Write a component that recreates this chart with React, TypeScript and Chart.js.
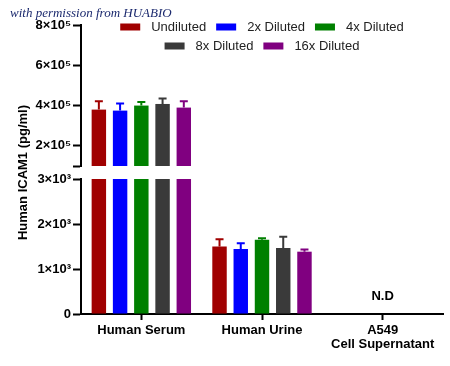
import React, { useEffect, useRef } from 'react';
import { Chart, registerables } from 'chart.js';

Chart.register(...registerables);

// ---------- data ----------
const categories: (string | string[])[] = ['Human Serum', 'Human Urine', ['A549', 'Cell Supernatant']];
const seriesLabels = ['Undiluted', '2x Diluted', '4x Diluted', '8x Diluted', '16x Diluted'];
const seriesColors = ['#a00000', '#0000ff', '#008000', '#3a3a3a', '#800080'];

const undiluted = [380000, 1500, null];
const diluted2x = [375000, 1445, null];
const diluted4x = [400000, 1650, null];
const diluted8x = [408000, 1465, null];
const diluted16x = [390000, 1385, null];

const undilutedSD = [41000, 160, null];
const diluted2xSD = [35000, 125, null];
const diluted4xSD = [18000, 35, null];
const diluted8xSD = [27000, 250, null];
const diluted16xSD = [31000, 50, null];

const notDetected = ['', '', 'N.D'];

const lowerTicks = [0, 1000, 2000, 3000];
const upperTicks = [100000, 200000, 400000, 600000, 800000];
const lowerMin = 0;
const lowerMax = 3000;
const upperMin = 100000;
const upperMax = 800000;

const yTitle = 'Human ICAM1 (pg/ml)';
const watermark = 'with permission from HUABIO';

// ---------- helpers ----------
const FONT = '"Liberation Sans", Arial, Helvetica, sans-serif';
const SUP = ['⁰', '¹', '²', '³', '⁴', '⁵', '⁶', '⁷', '⁸', '⁹'];
function sci(v: number): string {
  if (v === 0) return '0';
  const e = Math.floor(Math.log10(v) + 1e-9);
  const m = Math.round(v / Math.pow(10, e));
  return `${m}×10${SUP[e]}`;
}

const seriesValues = [undiluted, diluted2x, diluted4x, diluted8x, diluted16x];
const seriesSD = [undilutedSD, diluted2xSD, diluted4xSD, diluted8xSD, diluted16xSD];

function buildDatasets() {
  const ds: any[] = [];
  seriesValues.forEach((vals, i) => {
    const common = {
      label: seriesLabels[i],
      backgroundColor: seriesColors[i],
      borderWidth: 0,
      stack: 's' + i,
      barPercentage: 0.68,
      categoryPercentage: 0.88,
      rawValues: vals,
      sd: seriesSD[i],
    };
    ds.push({
      ...common,
      yAxisID: 'yLow',
      inLegend: true,
      data: vals.map((v) => (v == null ? null : [lowerMin, Math.min(v, lowerMax)])),
    });
    ds.push({
      ...common,
      yAxisID: 'yHigh',
      inLegend: false,
      data: vals.map((v) => (v == null || v <= upperMin ? null : [upperMin, v])),
    });
  });
  return ds;
}

const errorBarPlugin = {
  id: 'errorBars',
  afterDatasetsDraw(chart: any) {
    const ctx = chart.ctx;
    chart.data.datasets.forEach((ds: any, di: number) => {
      const meta = chart.getDatasetMeta(di);
      const scale = chart.scales[ds.yAxisID];
      meta.data.forEach((bar: any, i: number) => {
        const v = ds.rawValues[i];
        const sd = ds.sd[i];
        if (v == null || sd == null || ds.data[i] == null) return;
        const inThis = ds.yAxisID === 'yHigh' ? v > upperMin : v <= lowerMax;
        if (!inThis) return;
        const x = bar.x;
        const y0 = scale.getPixelForValue(v);
        const y1 = scale.getPixelForValue(v + sd);
        ctx.save();
        ctx.strokeStyle = ds.backgroundColor;
        ctx.lineWidth = 2;
        ctx.beginPath();
        ctx.moveTo(x, y0);
        ctx.lineTo(x, y1);
        ctx.moveTo(x - 4, y1);
        ctx.lineTo(x + 4, y1);
        ctx.stroke();
        ctx.restore();
      });
    });
  },
};

const annotationsPlugin = {
  id: 'annotations',
  afterDraw(chart: any) {
    const ctx = chart.ctx;
    const area = chart.chartArea;
    ctx.save();
    // watermark
    ctx.font = 'italic 13px "Liberation Serif", "DejaVu Serif", serif';
    ctx.fillStyle = '#1c2a6e';
    ctx.textAlign = 'left';
    ctx.textBaseline = 'alphabetic';
    ctx.fillText(watermark, 10, 17);

    // N.D labels
    ctx.font = `bold 13px ${FONT}`;
    ctx.fillStyle = '#000';
    ctx.textAlign = 'center';
    ctx.textBaseline = 'middle';
    notDetected.forEach((t, i) => {
      if (!t) return;
      const x = chart.scales.x.getPixelForValue(i);
      const y = chart.scales.yLow.getPixelForValue(lowerMin) - 18;
      ctx.fillText(t, x, y);
    });

    // legend
    const items = chart.data.datasets.filter((d: any) => d.inLegend);
    const rows = [items.slice(0, 3), items.slice(3)];
    ctx.font = `13px ${FONT}`;
    ctx.textAlign = 'left';
    ctx.textBaseline = 'middle';
    const boxW = 20, boxH = 7, boxGap = 11, itemGap = 10;
    const cx = (area.left + area.right) / 2;
    rows.forEach((row: any[], r: number) => {
      const widths = row.map((d) => boxW + boxGap + ctx.measureText(d.label).width);
      const total = widths.reduce((a, b) => a + b, 0) + itemGap * (row.length - 1);
      let x = cx - total / 2;
      const y = area.top + 2 + r * 19;
      row.forEach((d, k) => {
        ctx.fillStyle = d.backgroundColor;
        ctx.fillRect(x, y - boxH / 2, boxW, boxH);
        ctx.fillStyle = '#222';
        ctx.fillText(d.label, x + boxW + boxGap, y + 0.5);
        x += widths[k] + itemGap;
      });
    });
    ctx.restore();
  },
};

const AXIS_W = 81;

export default function App() {
  const ref = useRef<HTMLCanvasElement>(null);
  useEffect(() => {
    const tickFont = { family: FONT, size: 13, weight: 'bold' as const };
    const chart = new Chart(ref.current as HTMLCanvasElement, {
      type: 'bar',
      data: { labels: categories as any, datasets: buildDatasets() },
      plugins: [errorBarPlugin, annotationsPlugin],
      options: {
        responsive: false,
        animation: false,
        layout: { padding: { top: 25, right: 7, left: 0, bottom: 0 } },
        plugins: {
          legend: { display: false },
          tooltip: { enabled: false },
          title: { display: false },
        },
        scales: {
          x: {
            type: 'category',
            offset: true,
            grid: {
              display: true,
              drawOnChartArea: false,
              drawTicks: true,
              tickLength: 6,
              tickWidth: 2,
              tickColor: '#000',
              offset: false,
            },
            border: { display: true, color: '#000', width: 2 },
            ticks: {
              color: '#000',
              font: { ...tickFont, lineHeight: 1.1 },
              padding: 3,
              maxRotation: 0,
              autoSkip: false,
            },
            afterFit: (s: any) => { s.height = 52; },
          },
          yHigh: {
            type: 'linear',
            position: 'left',
            stack: 'y',
            stackWeight: 141,
            weight: 3,
            stacked: false,
            min: upperMin,
            max: upperMax,
            afterBuildTicks: (s: any) => { s.ticks = upperTicks.map((v) => ({ value: v })); },
            grid: {
              display: true,
              drawOnChartArea: false,
              drawTicks: true,
              tickLength: 8,
              tickWidth: 2,
              tickColor: '#000',
            },
            border: { display: true, color: '#000', width: 2 },
            ticks: {
              color: '#000',
              font: tickFont,
              padding: 2,
              callback: (v: any) => (v === upperMin ? '' : sci(Number(v))),
            },
            afterFit: (s: any) => { s.width = AXIS_W; },
          },
          yGap: {
            type: 'linear',
            position: 'left',
            stack: 'y',
            stackWeight: 13,
            weight: 2,
            grid: { display: false },
            border: { display: false },
            ticks: { display: false },
            title: {
              display: true,
              text: yTitle,
              color: '#000',
              font: { family: FONT, size: 13, weight: 'bold' },
              padding: { top: 16, bottom: 0 },
            },
            afterFit: (s: any) => { s.width = AXIS_W; },
          },
          yLow: {
            type: 'linear',
            position: 'left',
            stack: 'y',
            stackWeight: 135,
            weight: 1,
            stacked: false,
            min: lowerMin,
            max: lowerMax,
            afterBuildTicks: (s: any) => { s.ticks = lowerTicks.map((v) => ({ value: v })); },
            grid: {
              display: true,
              drawOnChartArea: false,
              drawTicks: true,
              tickLength: 8,
              tickWidth: 2,
              tickColor: '#000',
            },
            border: { display: true, color: '#000', width: 2 },
            ticks: {
              color: '#000',
              font: tickFont,
              padding: 2,
              callback: (v: any) => sci(Number(v)),
            },
            afterFit: (s: any) => { s.width = AXIS_W; },
          },
        } as any,
      },
    });
    return () => chart.destroy();
  }, []);

  return (
    <div style={{ position: 'absolute', left: 0, top: 0, width: 450, height: 366 }}>
      <canvas ref={ref} width={450} height={366} />
    </div>
  );
}
